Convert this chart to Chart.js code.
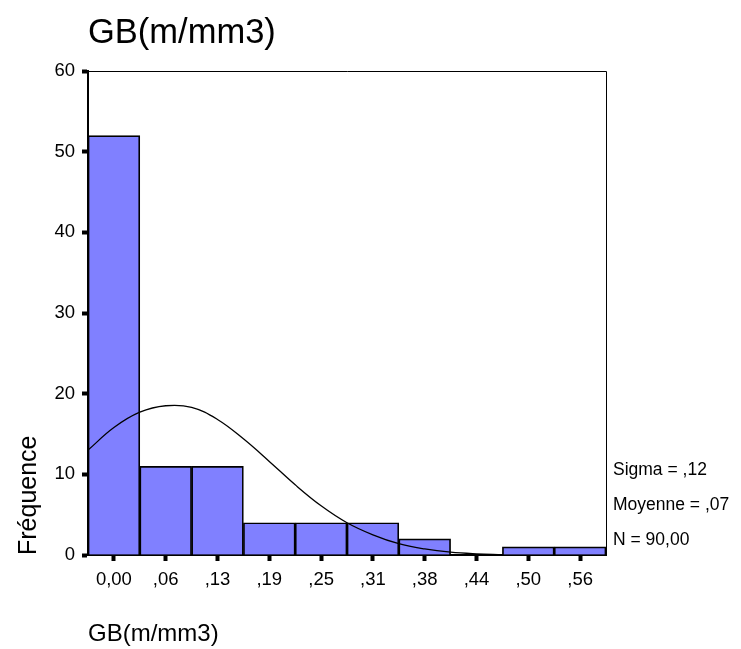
<!DOCTYPE html>
<html>
<head>
<meta charset="utf-8">
<script src="https://cdn.jsdelivr.net/npm/chart.js@4/dist/chart.umd.min.js"></script>
<style>
  html, body { margin: 0; padding: 0; background: #fff; }
  #wrap { width: 741px; height: 649px; position: relative; }
</style>
</head>
<body>
<div id="wrap"><canvas id="hist"></canvas></div>
<script>
// histogram data
const binCenters = [0, 0.0625, 0.125, 0.1875, 0.25, 0.3125, 0.375, 0.4375, 0.5, 0.5625];
const binLabels = ['0,00', ',06', ',13', ',19', ',25', ',31', ',38', ',44', ',50', ',56'];
const frequencies = [52, 11, 11, 4, 4, 4, 2, 0, 1, 1];

// normal curve, estimated points
const curveX = [-0.03125, 0, 0.03125, 0.0625, 0.09375, 0.125, 0.15625, 0.1875, 0.21875, 0.25, 0.28125, 0.3125, 0.34375, 0.375, 0.40625, 0.4375, 0.46875];
const curveY = [13.0, 15.8, 17.7, 18.5, 18.3, 16.8, 14.4, 11.6, 8.7, 6.1, 4.0, 2.5, 1.4, 0.75, 0.35, 0.15, 0.05];

const statsLines = ['Sigma = ,12', 'Moyenne = ,07', 'N = 90,00'];
const chartTitle = 'GB(m/mm3)';

const FONT = "'Liberation Sans', Arial, sans-serif";

const framePlugin = {
    id: 'frame',
    afterDraw: function(chart) {
        const ctx = chart.ctx;
        const a = chart.chartArea;
        ctx.save();
        // thin top + right frame
        ctx.strokeStyle = '#000';
        ctx.lineWidth = 1;
        ctx.beginPath();
        ctx.moveTo(a.left, a.top + 0.5);
        ctx.lineTo(a.right + 0.5, a.top + 0.5);
        ctx.lineTo(a.right + 0.5, a.bottom);
        ctx.stroke();

        // main title
        ctx.fillStyle = '#000';
        ctx.font = '34.5px ' + FONT;
        ctx.textBaseline = 'middle';
        ctx.textAlign = 'left';
        ctx.fillText(chartTitle, a.left, 33);

        // stats on the right
        ctx.font = '17.5px ' + FONT;
        statsLines.forEach((s, i) => {
            ctx.fillText(s, a.right + 7, a.bottom - 85 + i * 35);
        });
        ctx.restore();
    }
};

const ctx = document.getElementById('hist').getContext('2d');
const chart = new Chart(ctx, {
    type: 'bar',
    data: {
        datasets: [
            {
                type: 'line',
                data: curveX.map((x, i) => ({ x: x, y: curveY[i] })),
                borderColor: '#000',
                borderWidth: 1.3,
                pointRadius: 0,
                fill: false,
                tension: 0.4,
                order: 0
            },
            {
                type: 'bar',
                data: binCenters.map((x, i) => ({ x: x, y: frequencies[i] })),
                backgroundColor: '#8080ff',
                borderColor: '#000',
                borderWidth: 1.7,
                borderSkipped: 'bottom',
                barPercentage: 1,
                categoryPercentage: 1,
                order: 1
            }
        ]
    },
    options: {
        responsive: true,
        maintainAspectRatio: false,
        animation: false,
        layout: { padding: { top: 71, right: 135, left: 0, bottom: 0 } },
        plugins: {
            legend: { display: false },
            tooltip: { enabled: false },
            title: { display: false }
        },
        scales: {
            x: {
                type: 'linear',
                offset: false,
                min: -0.03125,
                max: 0.59375,
                afterBuildTicks: function(scale) {
                    scale.ticks = binCenters.map(v => ({ value: v }));
                },
                afterFit: function(scale) { scale.height = 94; },
                ticks: {
                    autoSkip: false,
                    maxRotation: 0,
                    color: '#000',
                    padding: 8,
                    font: { family: FONT, size: 18.5 },
                    callback: function(value, index) { return binLabels[index]; }
                },
                grid: {
                    offset: false,
                    drawOnChartArea: false,
                    drawTicks: true,
                    tickLength: 6,
                    tickWidth: 4,
                    tickColor: '#000'
                },
                border: { display: true, color: '#000', width: 2 },
                title: {
                    display: true,
                    text: 'GB(m/mm3)',
                    align: 'start',
                    color: '#000',
                    font: { family: FONT, size: 24 },
                    padding: { top: 0, bottom: 0 }
                }
            },
            y: {
                min: 0,
                max: 60,
                afterFit: function(scale) { scale.width = 88; },
                ticks: {
                    stepSize: 10,
                    color: '#000',
                    padding: 7,
                    font: { family: FONT, size: 18.5 }
                },
                grid: {
                    drawOnChartArea: false,
                    drawTicks: true,
                    tickLength: 6,
                    tickWidth: 4,
                    tickColor: '#000'
                },
                border: { display: true, color: '#000', width: 2 },
                title: {
                    display: true,
                    text: 'Fréquence',
                    align: 'start',
                    color: '#000',
                    font: { family: FONT, size: 25 },
                    padding: { top: 14, bottom: 0 }
                }
            }
        }
    },
    plugins: [framePlugin]
});
</script>
</body>
</html>
